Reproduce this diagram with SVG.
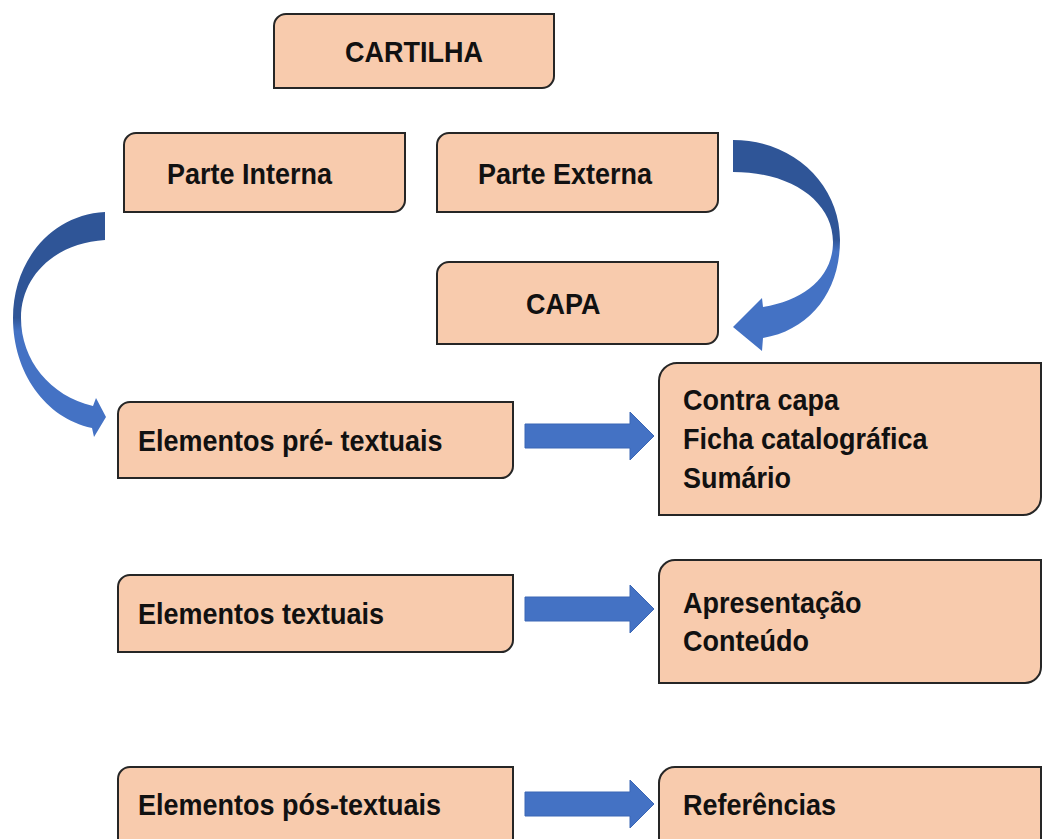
<svg xmlns="http://www.w3.org/2000/svg" width="1043" height="839" viewBox="0 0 1043 839">
<defs>
<style>
.box{fill:#F8CBAD;stroke:#262626;stroke-width:2}
.t{font-family:"Liberation Sans",Arial,sans-serif;font-weight:bold;font-size:27px;fill:#111}
.blk{fill:#4472C4;stroke:#3A66B5;stroke-width:1}
</style>
<linearGradient id="gl" x1="0" y1="0" x2="0" y2="1">
<stop offset="0" stop-color="#2F5597"/>
<stop offset="0.47" stop-color="#2F5597"/>
<stop offset="0.53" stop-color="#4472C4"/>
<stop offset="1" stop-color="#4472C4"/>
</linearGradient>
</defs>
<rect width="1043" height="839" fill="#fff"/>
<g id="cartilha">
<path class="box" d="M286 14 H554 V76 A12 12 0 0 1 542 88 H274 V26 A12 12 0 0 1 286 14 Z"/>
<text class="t" transform="translate(414 62) scale(1 1.1)" text-anchor="middle">CARTILHA</text>
</g>
<g id="parte-interna">
<path class="box" d="M136 133 H405 V200 A12 12 0 0 1 393 212 H124 V145 A12 12 0 0 1 136 133 Z"/>
<text class="t" transform="translate(167 184) scale(1 1.1)">Parte Interna</text>
</g>
<g id="parte-externa">
<path class="box" d="M449 133 H718 V200 A12 12 0 0 1 706 212 H437 V145 A12 12 0 0 1 449 133 Z"/>
<text class="t" transform="translate(478 184) scale(1 1.1)">Parte Externa</text>
</g>
<g id="capa">
<path class="box" d="M449 262 H718 V332 A12 12 0 0 1 706 344 H437 V274 A12 12 0 0 1 449 262 Z"/>
<text class="t" transform="translate(526 314) scale(1 1.1)">CAPA</text>
</g>
<g id="pre-textuais">
<path class="box" d="M130 402 H513 V466 A12 12 0 0 1 501 478 H118 V414 A12 12 0 0 1 130 402 Z"/>
<text class="t" transform="translate(138 451) scale(1 1.1)">Elementos pré- textuais</text>
</g>
<g id="pre-itens">
<path class="box" d="M677 363 H1041 V497 A18 18 0 0 1 1023 515 H659 V381 A18 18 0 0 1 677 363 Z"/>
<text class="t" transform="translate(683 410) scale(1 1.1)">Contra capa</text>
<text class="t" transform="translate(683 449) scale(1 1.1)">Ficha catalográfica</text>
<text class="t" transform="translate(683 488) scale(1 1.1)">Sumário</text>
</g>
<g id="textuais">
<path class="box" d="M130 575 H513 V640 A12 12 0 0 1 501 652 H118 V587 A12 12 0 0 1 130 575 Z"/>
<text class="t" transform="translate(138 624) scale(1 1.1)">Elementos textuais</text>
</g>
<g id="textuais-itens">
<path class="box" d="M675 560 H1041 V667 A16 16 0 0 1 1025 683 H659 V576 A16 16 0 0 1 675 560 Z"/>
<text class="t" transform="translate(683 613) scale(1 1.1)">Apresentação</text>
<text class="t" transform="translate(683 651) scale(1 1.1)">Conteúdo</text>
</g>
<g id="pos-textuais">
<path class="box" d="M130 767 H513 V850 H118 V779 A12 12 0 0 1 130 767 Z"/>
<text class="t" transform="translate(138 815) scale(1 1.1)">Elementos pós-textuais</text>
</g>
<g id="pos-itens">
<path class="box" d="M675 767 H1041 V850 H659 V783 A16 16 0 0 1 675 767 Z"/>
<text class="t" transform="translate(683 815) scale(1 1.1)">Referências</text>
</g>
<g id="connectors">
<path fill="url(#gl)" d="M105 212 C50 215 13 262 13 318 C13 372 45 418 92 428 L94 437 L106 417 L96 398 L93 406 C50 396 21 360 21 318 C21 276 55 243 105 240 Z"/>
<path fill="url(#gl)" d="M733 140 C795 140 840 186 840 240 C840 292 810 330 763 338 L762 351 L733 327 L762 298 L763 307 C806 300 833 276 833 242 C833 202 792 172 733 172 Z"/>
<path class="blk" d="M525 424 H630 V412 L654 436 L630 460 V448 H525 Z"/>
<path class="blk" d="M525 597 H630 V585 L654 609 L630 633 V621 H525 Z"/>
<path class="blk" d="M525 792 H630 V780 L654 804 L630 828 V816 H525 Z"/>
</g>
</svg>
